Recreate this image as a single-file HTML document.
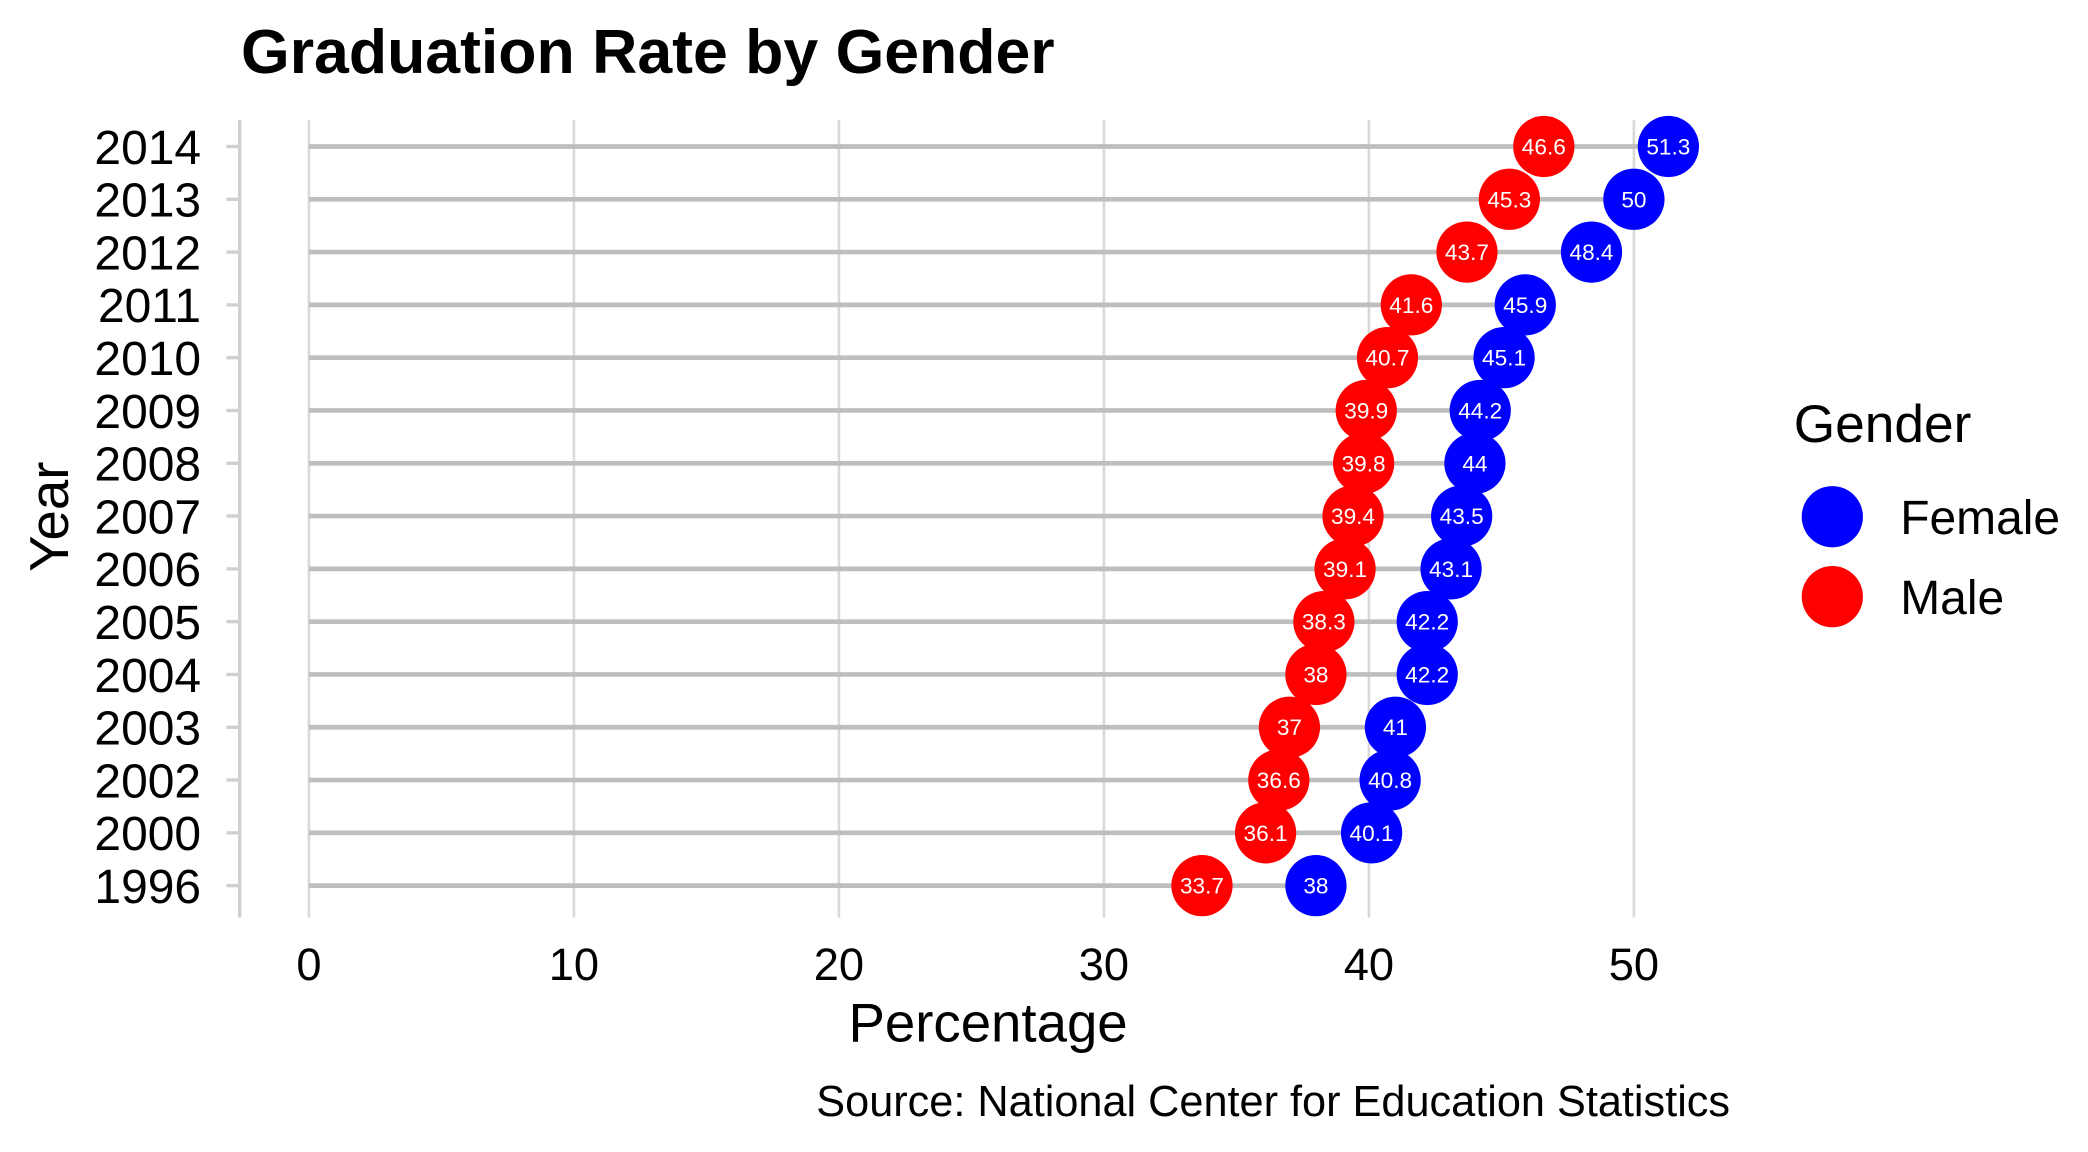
<!DOCTYPE html>
<html><head><meta charset="utf-8"><style>
html,body{margin:0;padding:0;background:#fff;}
svg{display:block;font-family:"Liberation Sans",Arial,sans-serif;}
</style></head><body>
<svg id="chart" width="2088" height="1152" viewBox="0 0 1568 865" preserveAspectRatio="none" xmlns="http://www.w3.org/2000/svg">
<rect width="1568" height="865" fill="#fff"/>
<text x="181" y="55" font-size="47" font-weight="bold" fill="#000">Graduation Rate by Gender</text>
<g id="grid"></g>
<line x1="180" y1="90" x2="180" y2="689" stroke="#d0d0d0" stroke-width="2.5"/>
<g id="rows"></g>
<g id="ylabels"></g>
<g id="xlabels"></g>
<text x="742" y="782" font-size="41" text-anchor="middle">Percentage</text>
<text transform="translate(51,388) rotate(-90)" font-size="41" text-anchor="middle">Year</text>
<g>
<text x="1347" y="332" font-size="40">Gender</text>
<circle cx="1376" cy="388" r="23" fill="#0000ff"/>
<text x="1427" y="401" font-size="36">Female</text>
<circle cx="1376" cy="448" r="23" fill="#ff0000"/>
<text x="1427" y="461" font-size="36">Male</text>
</g>
<text x="613" y="838" font-size="32.5">Source: National Center for Education Statistics</text>
</svg>
<script>
const years = ["2014","2013","2012","2011","2010","2009","2008","2007","2006","2005","2004","2003","2002","2000","1996"];
const female = [51.3,50,48.4,45.9,45.1,44.2,44,43.5,43.1,42.2,42.2,41,40.8,40.1,38];
const male = [46.6,45.3,43.7,41.6,40.7,39.9,39.8,39.4,39.1,38.3,38,37,36.6,36.1,33.7];
const xTicks = [0,10,20,30,40,50];
const NS="http://www.w3.org/2000/svg";
function xs(v){return 232 + v*19.9;}
function ys(i){return 110 + i*(665-110)/(years.length-1);}
function mk(tag,attrs,parent){const e=document.createElementNS(NS,tag);for(const k in attrs)e.setAttribute(k,attrs[k]);parent.appendChild(e);return e;}
const grid=document.getElementById('grid'),rows=document.getElementById('rows'),yl=document.getElementById('ylabels'),xl=document.getElementById('xlabels');
xTicks.forEach(t=>{
  const l=mk('line',{x1:xs(t),x2:xs(t),y1:90,y2:689,stroke:'#d9d9d9','stroke-width':2},grid);
  
  
  const tx=mk('text',{x:xs(t),y:736,'font-size':34,'text-anchor':'middle'},xl);
  tx.textContent=t;
  
  
});
years.forEach((y,i)=>{
  const yy=ys(i);
  const tk=mk('line',{x1:170,x2:180,y1:yy,y2:yy,stroke:'#d0d0d0','stroke-width':2.5},grid);
  
  
  const t=mk('text',{x:151,y:yy+13,'font-size':36,'text-anchor':'end'},yl);
  t.textContent=y;
  
  
  const mx=Math.max(female[i],male[i]);
  const ln=mk('line',{x1:xs(0),x2:xs(mx),y1:yy,y2:yy,stroke:'#bebebe','stroke-width':3.5},rows);
  
  
  [[male[i],'#ff0000','male'],[female[i],'#0000ff','female']].forEach(([v,c,n])=>{
    const ci=mk('circle',{cx:xs(v),cy:yy,r:23,fill:c},rows);
    
    
    const lb=mk('text',{x:xs(v),y:yy+6,'font-size':17,fill:'#fff','text-anchor':'middle'},rows);
    lb.textContent=v;
    
    
  });
});
</script>
</body></html>
